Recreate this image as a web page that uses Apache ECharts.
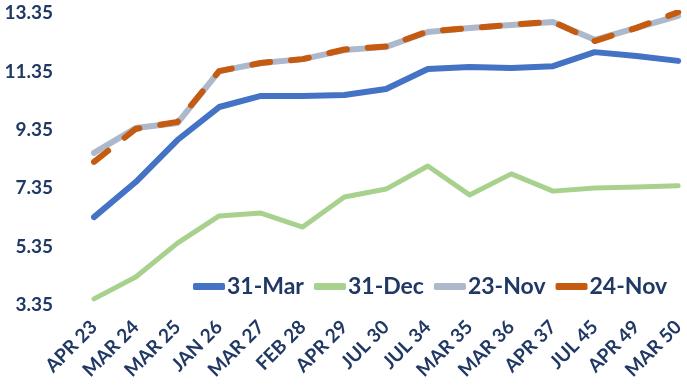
<!DOCTYPE html>
<html><head><meta charset="utf-8">
<script src="https://cdn.jsdelivr.net/npm/echarts@6/dist/echarts.min.js"></script>
<style>html,body{margin:0;padding:0;background:#fff}#c{width:687px;height:387px}</style>
</head><body><div id="c"></div>
<script>
const categories = ['APR 23','MAR 24','MAR 25','JAN 26','MAR 27','FEB 28','APR 29','JUL 30','JUL 34','MAR 35','MAR 36','APR 37','JUL 45','APR 49','MAR 50'];
const mar31 = [6.36,7.56,9.0,10.13,10.51,10.51,10.54,10.75,11.43,11.5,11.47,11.53,12.01,11.88,11.71];
const dec31 = [3.56,4.31,5.47,6.40,6.50,6.02,7.05,7.32,8.11,7.12,7.84,7.25,7.36,7.39,7.43];
const nov23 = [8.56,9.41,9.58,11.36,11.64,11.77,12.08,12.19,12.7,12.84,12.94,13.04,12.43,12.84,13.25];
const nov24 = [8.25,9.38,9.62,11.36,11.64,11.77,12.1,12.2,12.72,12.83,12.95,13.05,12.39,12.84,13.38];
const yTicks = [3.35,5.35,7.35,9.35,11.35,13.35];

const navy = '#203864';
const font = 'Lato, "Liberation Sans", sans-serif';
const chart = echarts.init(document.getElementById('c'));
const mk = (name, data, color, width, extra) => Object.assign({
  name, type:'line', data, symbol:'none', smooth:false,
  lineStyle:{color, width, cap:'round', join:'round'},
  itemStyle:{color}
}, extra||{});
chart.setOption({
  animation:false,
  grid:{left:94, right:7, top:13, bottom:82, containLabel:false},
  legend:{
    left:193, top:275, padding:0, width:494, itemGap:10, itemWidth:32, itemHeight:7,
    icon:'roundRect',
    textStyle:{color:navy, fontSize:23, fontWeight:'bold', fontFamily:font, padding:[0,0,0,-3]},
    data:['31-Mar','31-Dec','23-Nov','24-Nov']
  },
  xAxis:{
    type:'category', data:categories, boundaryGap:false,
    axisLine:{show:false}, axisTick:{show:false},
    axisLabel:{rotate:45, margin:19, color:navy, fontSize:19, fontWeight:'bold', fontFamily:font, interval:0}
  },
  yAxis:{
    type:'value', min:3.35, max:13.35,
    splitLine:{show:false}, axisLine:{show:false}, axisTick:{show:false},
    axisLabel:{customValues:yTicks, margin:41, color:navy, fontSize:19, fontWeight:'bold', fontFamily:font,
      formatter:v=>v.toFixed(2)}
  },
  series:[
    mk('31-Mar', mar31, '#4472C4', 6),
    mk('31-Dec', dec31, '#A9D18E', 5),
    mk('23-Nov', nov23, '#ADB9CA', 6),
    mk('24-Nov', nov24, '#C55A11', 6, {lineStyle:{color:'#C55A11', width:6, cap:'round', join:'round', type:[18,21]}})
  ]
});
</script></body></html>
